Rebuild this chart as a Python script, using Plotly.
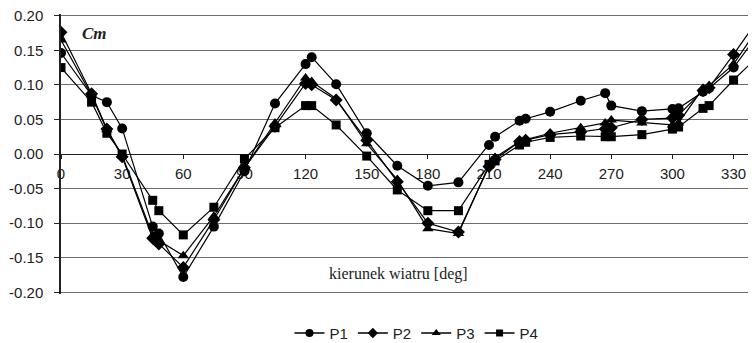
import plotly.graph_objects as go

# wind direction angles [deg]
angles = [0, 15, 22.5, 30, 45, 48, 60, 75, 90, 105, 120, 123, 135, 150, 165, 180,
          195, 210, 213, 225, 228, 240, 255, 267, 270, 285, 300, 303, 315, 318, 330, 345]

p1 = [0.146, 0.085, 0.075, 0.037, -0.105, -0.115, -0.178, -0.105, -0.025, 0.073, 0.130, 0.140,
      0.101, 0.030, -0.017, -0.046, -0.041, 0.013, 0.025, 0.048, 0.051, 0.061, 0.077, 0.088,
      0.070, 0.062, 0.065, 0.066, 0.090, 0.095, 0.125, 0.185]
p2 = [0.176, 0.087, 0.036, -0.004, -0.122, -0.130, -0.164, -0.095, -0.020, 0.040, 0.102, 0.100,
      0.078, 0.020, -0.040, -0.100, -0.113, -0.018, -0.008, 0.018, 0.020, 0.028, 0.032, 0.036,
      0.038, 0.050, 0.052, 0.056, 0.092, 0.096, 0.144, 0.207]
p3 = [0.165, 0.085, 0.035, -0.002, -0.118, -0.125, -0.147, -0.090, -0.020, 0.045, 0.110, 0.105,
      0.080, 0.015, -0.037, -0.108, -0.115, -0.016, -0.005, 0.018, 0.021, 0.030, 0.038, 0.045,
      0.049, 0.045, 0.042, 0.045, 0.095, 0.099, 0.130, 0.195]
p4 = [0.125, 0.075, 0.030, 0.000, -0.067, -0.082, -0.117, -0.077, -0.007, 0.038, 0.070, 0.070,
      0.042, -0.003, -0.052, -0.082, -0.082, -0.015, -0.010, 0.013, 0.017, 0.024, 0.026, 0.025,
      0.025, 0.028, 0.036, 0.039, 0.066, 0.070, 0.107, 0.150]

series = [("P1", p1, "circle", 10, 8), ("P2", p2, "diamond", 10, 8),
          ("P3", p3, "triangle-up", 10, 8), ("P4", p4, "square", 9, 7)]

x_ticks = [0, 30, 60, 90, 120, 150, 180, 210, 240, 270, 300, 330]
y_ticks = [-0.20, -0.15, -0.10, -0.05, 0.00, 0.05, 0.10, 0.15, 0.20]

fig = go.Figure()
for name, vals, sym, sz, lsz in series:
    fig.add_trace(go.Scatter(
        x=angles, y=vals, name=name, mode="lines+markers", showlegend=False,
        line=dict(color="black", width=1.2),
        marker=dict(symbol=sym, size=sz, color="black"),
    ))
# legend entries (smaller symbols, as in the original key)
for name, vals, sym, sz, lsz in series:
    fig.add_trace(go.Scatter(
        x=[None], y=[None], name=name, mode="lines+markers", showlegend=True,
        line=dict(color="black", width=1.5),
        marker=dict(symbol=sym, size=lsz, color="black"),
    ))

# the page body adds an 8px offset; the figure is sized to compensate
fig.update_layout(
    width=748, height=335,
    margin=dict(l=53, r=0, t=6, b=49, autoexpand=False),
    paper_bgcolor="white", plot_bgcolor="white",
    font=dict(family="Liberation Sans, Arial, sans-serif", size=15, color="#222"),
    showlegend=True,
    legend=dict(orientation="h", x=0.5115, xanchor="center", y=-0.14, yanchor="middle",
                font=dict(size=15, color="#222"),
                tracegroupgap=0, itemwidth=30),
    xaxis=dict(range=[0, 341], tickvals=x_ticks, ticktext=[str(v) for v in x_ticks],
               anchor="free", position=0.5, showline=True, linecolor="#222", linewidth=1,
               ticks="outside", ticklen=4, tickcolor="#222", showgrid=False,
               zeroline=False, layer="below traces", ticklabelstandoff=2, automargin=False,
               ticklabeloverflow="allow"),
    yaxis=dict(range=[-0.2025, 0.2025], tickvals=y_ticks,
               ticktext=[f"{v:.2f}" for v in y_ticks],
               showline=True, linecolor="#222", linewidth=1.5,
               ticks="outside", ticklen=5, tickcolor="#222",
               showgrid=True, gridcolor="#6e6e6e", gridwidth=1,
               zeroline=True, zerolinecolor="#333", zerolinewidth=1.2,
               ticklabelstandoff=8, automargin=False, ticklabeloverflow="allow"),
)

fig.add_annotation(x=16.5, y=0.174, text="<b><i>Cm</i></b>", showarrow=False,
                   font=dict(family="Liberation Serif, Times New Roman, serif", size=17, color="#222"))
fig.add_annotation(x=165.5, y=-0.174, text="kierunek wiatru [deg]", showarrow=False,
                   font=dict(family="Liberation Serif, Times New Roman, serif", size=16, color="#222"))

fig.write_html("out.html")
